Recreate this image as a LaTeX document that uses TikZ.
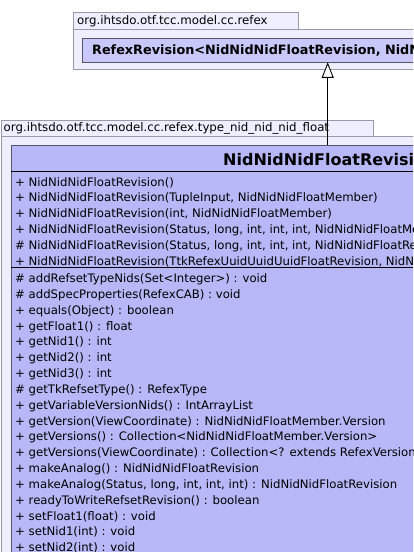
\documentclass[tikz,border=0pt]{standalone}
\usepackage{fontspec}
\setmainfont{DejaVu Sans}
\usetikzlibrary{arrows.meta}
\definecolor{PkgFill}{HTML}{EEEEFF}
\definecolor{PkgLine}{HTML}{9999AA}
\definecolor{SuperFill}{HTML}{C8C8FA}
\definecolor{ClassFill}{HTML}{B8B8F8}
\definecolor{ClassLine}{HTML}{555566}

\begin{document}
\begin{tikzpicture}[x=1pt,y=-1pt,
    pkgbox/.style={draw=PkgLine,fill=PkgFill,line width=0.8pt,anchor=north west,inner sep=0pt},
    classbox/.style={draw=ClassLine,line width=0.8pt,anchor=north west,inner sep=0pt},
    pkglabel/.style={anchor=base west,inner sep=0pt,font=\fontsize{11.8}{14}\selectfont},
    classname/.style={anchor=base west,inner sep=0pt,font=\bfseries\fontsize{#1}{18}\selectfont},
    member/.style={anchor=base west,inner sep=0pt,font=\fontsize{11.7}{14}\selectfont},
    compart/.style={line width=0.9pt,black}]
  \useasboundingbox (0,0) rectangle (413,552);
  \clip (0,0) rectangle (413,552);
  \fill[white] (0,0) rectangle (413,552);

  % package of the superclass
  \node[pkgbox,minimum width=225pt,minimum height=17.5pt] (tab1) at (73,11.5) {};
  \node[pkgbox,minimum width=420pt,minimum height=40pt] (pkg1) at (73,29) {};
  \node[pkglabel] (pkg1name) at (77,24.2) {org.ihtsdo.otf.tcc.model.cc.refex};
  \node[classbox,fill=SuperFill,minimum width=420pt,minimum height=24pt] (cls1) at (81.5,37.5) {};
  \node[classname=12.8] (cls1name) at (92,54) {RefexRevision<NidNidNidFloatRevision, NidNidNidFloatMember.Version>};

  % package of the class
  \node[pkgbox,minimum width=372.5pt,minimum height=16.5pt] (tab2) at (0.5,119.5) {};
  \node[pkgbox,minimum width=520pt,minimum height=520pt] (pkg2) at (0.5,136) {};
  \node[pkglabel] (pkg2name) at (3.5,131.8) {org.ihtsdo.otf.tcc.model.cc.refex.type\_nid\_nid\_nid\_float};
  \node[classbox,fill=ClassFill,minimum width=640pt,minimum height=520pt] (cls2) at (10.5,144.5) {};
  \node[classname=16] (cls2name) at (223,165) {NidNidNidFloatRevision};
  \draw[compart] (10.5,171) -- (413,171);
  \draw[compart] (10.5,267.5) -- (413,267.5);

  \foreach \txt [count=\i from 0] in {
      {+ NidNidNidFloatRevision()},
      {+ NidNidNidFloatRevision(TupleInput, NidNidNidFloatMember)},
      {+ NidNidNidFloatRevision(int, NidNidNidFloatMember)},
      {+ NidNidNidFloatRevision(Status, long, int, int, int, NidNidNidFloatMember)},
      {\# NidNidNidFloatRevision(Status, long, int, int, int, NidNidNidFloatRevision)},
      {+ NidNidNidFloatRevision(TtkRefexUuidUuidUuidFloatRevision, NidNidNidFloatMember)}}
    \node[member] (ctor\i) at (15,186+15.8*\i) {\txt};

  \foreach \txt [count=\i from 0] in {
      {\# addRefsetTypeNids(Set<Integer>) : void},
      {\# addSpecProperties(RefexCAB) : void},
      {+ equals(Object) : boolean},
      {+ getFloat1() : float},
      {+ getNid1() : int},
      {+ getNid2() : int},
      {+ getNid3() : int},
      {\# getTkRefsetType() : RefexType},
      {+ getVariableVersionNids() : IntArrayList},
      {+ getVersion(ViewCoordinate) : NidNidNidFloatMember.Version},
      {+ getVersions() : Collection<NidNidNidFloatMember.Version>},
      {+ getVersions(ViewCoordinate) : Collection<? extends RefexVersionBI<NidNidNidFloatRevision>>},
      {+ makeAnalog() : NidNidNidFloatRevision},
      {+ makeAnalog(Status, long, int, int, int) : NidNidNidFloatRevision},
      {+ readyToWriteRefsetRevision() : boolean},
      {+ setFloat1(float) : void},
      {+ setNid1(int) : void},
      {+ setNid2(int) : void}}
    \node[member] (meth\i) at (15,282.6+15.83*\i) {\txt};

  % generalization
  \coordinate (gen) at (327.7,0);
  \draw[-{Triangle[fill=white,length=15.5pt,width=12pt]},line width=0.9pt] (gen |- cls2.north) -- (gen |- cls1.south);
\end{tikzpicture}
\end{document}
